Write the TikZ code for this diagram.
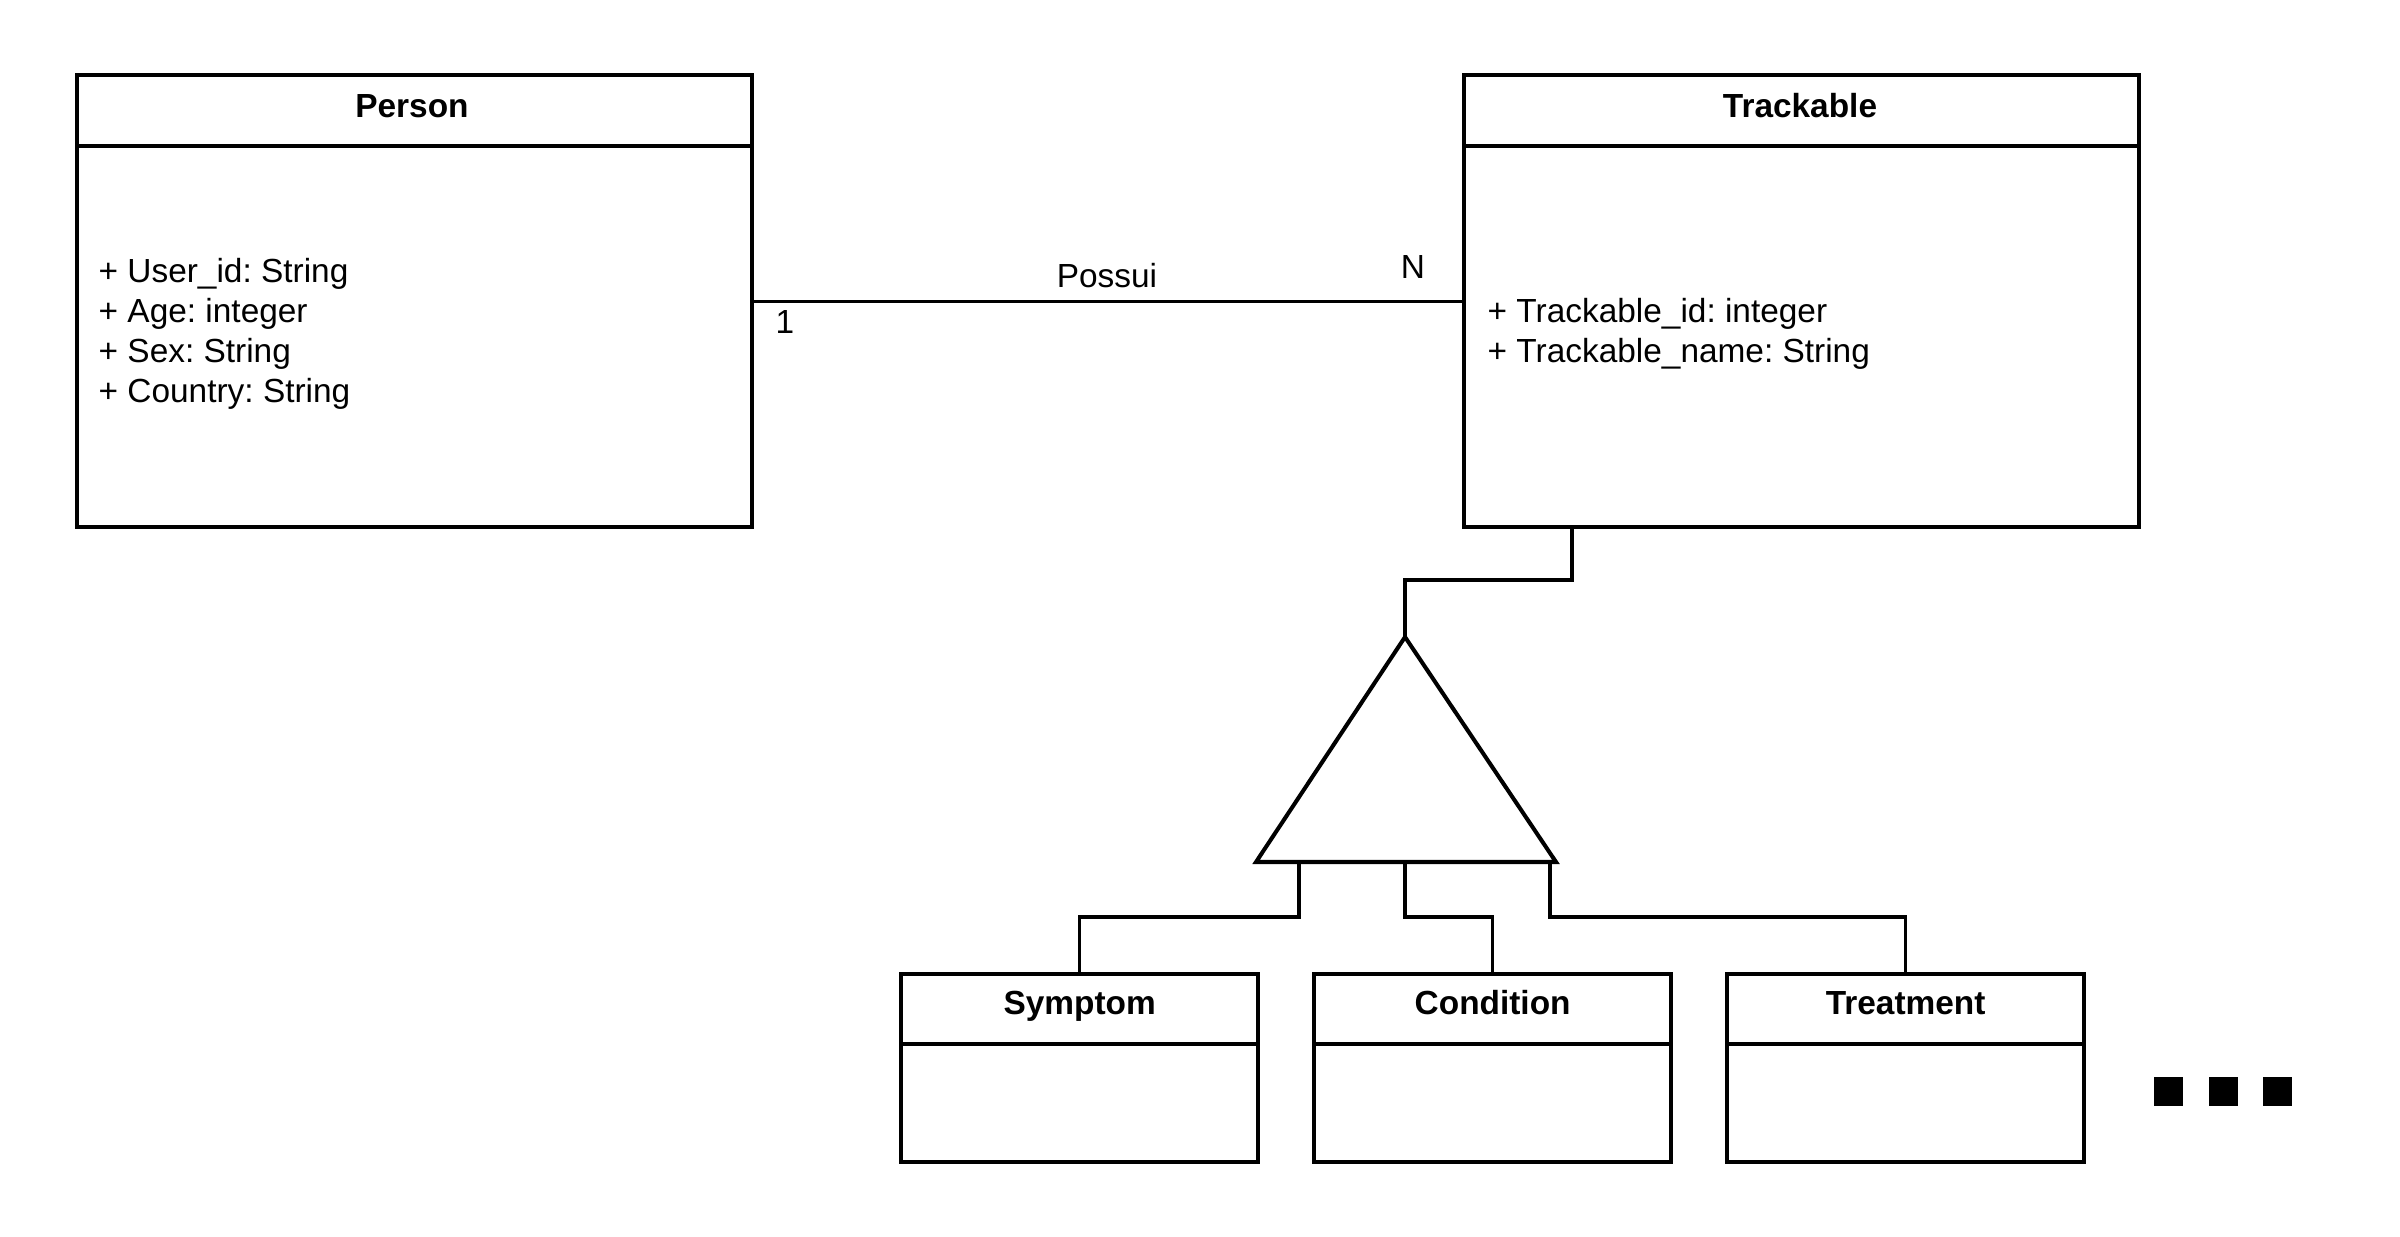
\documentclass[tikz,border=0pt]{standalone}
\usepackage{fontspec}
\setmainfont{Liberation Sans}
\usetikzlibrary{calc}
\frenchspacing
\begin{document}
\begin{tikzpicture}[x=0.01cm,y=-0.01cm,
  umlbox/.style={draw=black, line width=1.15pt, rectangle, inner sep=0pt, anchor=north west, fill=white},
  conn/.style={draw=black, line width=1.0pt},
  title/.style={font=\fontsize{9.5}{11.5}\selectfont\bfseries, anchor=base, inner sep=0pt},
  attr/.style={font=\fontsize{9.5}{11.5}\selectfont, anchor=base west, inner sep=0pt},
  lbl/.style={font=\fontsize{9.5}{11.5}\selectfont, anchor=base, inner sep=0pt},
  sqdot/.style={fill=black, rectangle, inner sep=0pt, minimum size=0.29cm}
]
\useasboundingbox (0,0) rectangle (2400,1236);

% Main classes
\node[umlbox, minimum width=6.75cm, minimum height=4.52cm] (person) at (75,73) {};
\draw[line width=1.15pt] ([yshift=-0.73cm]person.north west) -- ([yshift=-0.73cm]person.north east);
\node[title] (persont) at (412,117) {Person};
\node[attr] (pa1) at (98,282) {+ User\_id: String};
\node[attr] (pa2) at (98,322) {+ Age: integer};
\node[attr] (pa3) at (98,362) {+ Sex: String};
\node[attr] (pa4) at (98,402) {+ Country: String};

\node[umlbox, minimum width=6.75cm, minimum height=4.52cm] (track) at (1462,73) {};
\draw[line width=1.15pt] ([yshift=-0.73cm]track.north west) -- ([yshift=-0.73cm]track.north east);
\node[title] (trackt) at (1800,117) {Trackable};
\node[attr] (ta1) at (1487,322) {+ Trackable\_id: integer};
\node[attr] (ta2) at (1487,362) {+ Trackable\_name: String};

% Association
\draw[conn, line width=0.9pt] (person.east) -- (track.west);
\node[lbl] (possui) at (1107,287) {Possui};
\node[lbl] (mulN) at (1413,278) {N};
\node[lbl] (mul1) at (785,333) {1};

% Generalization triangle
\coordinate (apex) at (1405,637);
\coordinate (tbl) at (1256,862);
\coordinate (tbr) at (1556,862);
\draw[line width=1.15pt, line join=miter] (apex) -- (tbl) -- (tbr) -- cycle;
\coordinate (tk) at (1572,525);
\draw[conn, line width=1.15pt] (tk) -- (1572,580) -- (1405,580) -- (apex);

% Subclasses
\node[umlbox, minimum width=3.57cm, minimum height=1.88cm] (symptom) at (899,972) {};
\node[umlbox, minimum width=3.57cm, minimum height=1.88cm] (condition) at (1312,972) {};
\node[umlbox, minimum width=3.57cm, minimum height=1.88cm] (treatment) at (1725,972) {};
\foreach \b in {symptom,condition,treatment}{
  \draw[line width=1.15pt] ([yshift=-0.72cm]\b.north west) -- ([yshift=-0.72cm]\b.north east);
}
\node[title] (symt) at (symptom.north |- 0,1014) {Symptom};
\node[title] (cont) at (condition.north |- 0,1014) {Condition};
\node[title] (trt) at (treatment.north |- 0,1014) {Treatment};

\coordinate (b1) at (1299,862);
\coordinate (b2) at (1405,862);
\coordinate (b3) at (1550,862);
\draw[conn] (b1) -- (1299,917) -| (symptom.north);
\draw[conn] (b2) -- (1405,917) -| (condition.north);
\draw[conn] (b3) -- (1550,917) -| (treatment.north);

% Ellipsis squares
\node[sqdot] (d1) at (2168,1091) {};
\node[sqdot] (d2) at (2223,1091) {};
\node[sqdot] (d3) at (2277,1091) {};
\end{tikzpicture}
\end{document}
